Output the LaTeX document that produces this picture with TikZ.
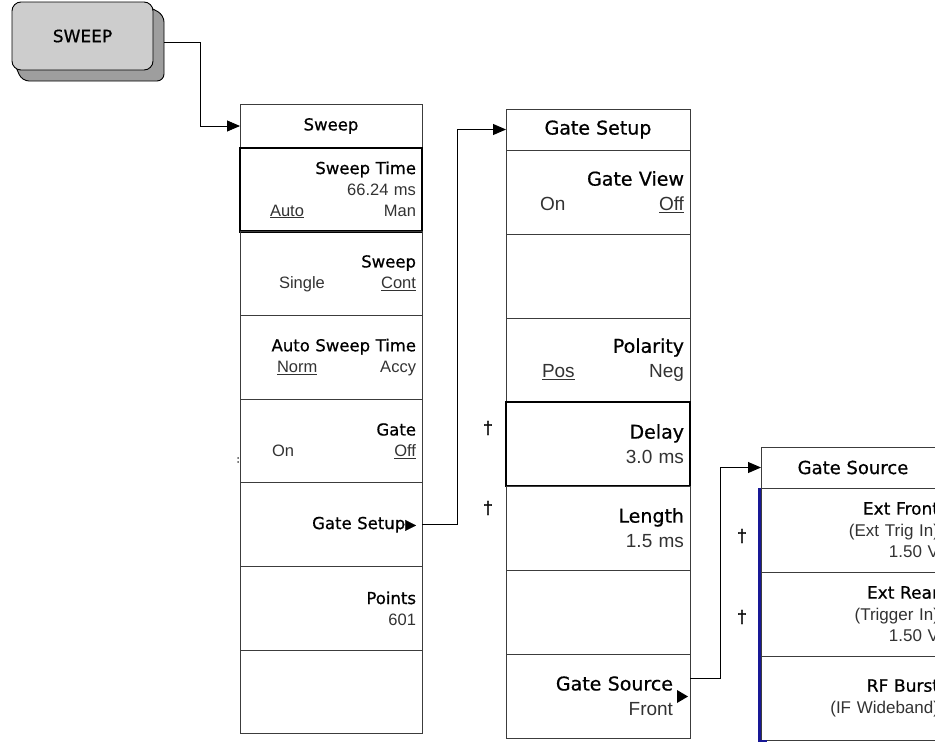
\documentclass[tikz,border=0pt]{standalone}
\usepackage{fontspec}
\setmainfont{DejaVu Sans}[FakeBold=0.7]
\newfontfamily\valfamily{Liberation Sans}
\usepackage{tikz}
\usetikzlibrary{positioning,arrows.meta}
\definecolor{menuline}{RGB}{60,60,60}
\definecolor{valgray}{RGB}{50,50,50}
\definecolor{keyface}{RGB}{205,205,205}
\definecolor{keyshade}{RGB}{158,158,158}
\definecolor{edgeblue}{RGB}{24,24,150}
\newcommand\val{\valfamily\color{valgray}}

\tikzset{
  menuhead/.style={draw=menuline,line width=.9pt,outer sep=0pt,inner sep=0pt,minimum width=#1},
  softkey/.style={draw=menuline,line width=.9pt,outer sep=0pt,inner xsep=6pt,inner ysep=0pt,align=right,text width=#1},
  sweepkey/.style={softkey=170pt,minimum height=83.7pt,font=\fontsize{16.5}{21}\selectfont},
  gskey/.style={softkey=172pt,minimum height=84pt,font=\fontsize{19}{25}\selectfont},
  srckey/.style={softkey=172pt,minimum height=84pt,font=\fontsize{17}{21.5}\selectfont},
  selkey/.style={draw=black,line width=2.6pt},
  link/.style={draw=black,line width=.9pt,-{Triangle[length=13pt,width=11pt]}},
  dagger/.style={inner sep=0pt,font=\fontsize{17}{17}\selectfont},
  hardkey/.style={draw=black,line width=.9pt,fill=keyface,rounded corners=9pt,minimum width=141pt,minimum height=68pt,font=\fontsize{17}{17}\selectfont}
}

\begin{document}
\begin{tikzpicture}[x=1pt,y=-1pt]
\useasboundingbox (0,0) rectangle (935,742);
\clip (0,0) rectangle (935,742);

% front panel key
\draw[line width=.9pt,fill=keyshade,rounded corners=7pt] (140,2) -- (164,15) -- (164,81) -- (22,81) -- (12,58) -- cycle;
\node[hardkey] (sweephard) at (82.5,36) {SWEEP};

% Sweep menu
\node[menuhead=182pt,minimum height=44pt,font=\fontsize{16.5}{20}\selectfont] (sweephead) at (331,126) {Sweep};
\node[sweepkey,selkey,below=0pt of sweephead] (sweeptime) {Sweep Time\\{\val 66.24 ms}\\{\val\hspace*{24pt}\underline{Auto}\hfill Man}};
\node[sweepkey,below=0pt of sweeptime] (sweepmode) {Sweep\\{\val\hspace*{33pt}Single\hfill\underline{Cont}}};
\node[sweepkey,below=0pt of sweepmode] (sweepauto) {Auto Sweep Time\\{\val\hspace*{31pt}\underline{Norm}\hfill Accy}};
\node[sweepkey,below=0pt of sweepauto] (sweepgate) {Gate\\{\val\hspace*{26pt}On\hfill\underline{Off}}};
\node[sweepkey,below=0pt of sweepgate] (sweepsetup) {Gate Setup{\fontsize{14}{14}\selectfont▶}};
\node[sweepkey,below=0pt of sweepsetup] (sweeppoints) {Points\\{\val 601}};
\node[sweepkey,below=0pt of sweeppoints] (sweepblank) {};
\node[anchor=east,inner sep=0pt,font=\fontsize{10}{10}\selectfont] (gatemark) at ([yshift=-19pt]sweepgate.west) {:};

% Gate Setup menu
\node[menuhead=184pt,minimum height=41pt,font=\fontsize{19}{23}\selectfont] (gshead) at (598,129.5) {Gate Setup};
\node[gskey,below=0pt of gshead] (gsview) {Gate View\\{\val\hspace*{28pt}On\hfill\underline{Off}}};
\node[gskey,below=0pt of gsview] (gsblanka) {};
\node[gskey,below=0pt of gsblanka] (gspolarity) {Polarity\\{\val\hspace*{30pt}\underline{Pos}\hfill Neg}};
\node[gskey,selkey,below=0pt of gspolarity] (gsdelay) {Delay\\{\val 3.0 ms}};
\node[gskey,below=0pt of gsdelay] (gslength) {Length\\{\val 1.5 ms}};
\node[gskey,below=0pt of gslength] (gsblankb) {};
\node[gskey,below=0pt of gsblankb] (gsgatesrc) {Gate Source\kern11pt\\{\val Front}\kern11pt};
\fill ([xshift=-13pt,yshift=6pt]gsgatesrc.east) -- ++(0,13) -- ++(11,-6.5) -- cycle;
\node[dagger] (dagdelay) at ([xshift=-18pt,yshift=16pt]gsdelay.west) {†};
\node[dagger] (daglength) at ([xshift=-18pt,yshift=20pt]gslength.west) {†};

% Gate Source menu
\node[menuhead=184pt,minimum height=41pt,font=\fontsize{18}{22}\selectfont] (srchead) at (853,467.5) {Gate Source};
\node[srckey,below=0pt of srchead] (extfront) {Ext Front\\{\val (Ext Trig In)}\\{\val 1.50 V}};
\node[srckey,below=0pt of extfront] (extrear) {Ext Rear\\{\val (Trigger In)}\\{\val 1.50 V}};
\node[srckey,below=0pt of extrear] (rfburst) {RF Burst\\{\val (IF Wideband)}};
\draw[edgeblue,line width=2.2pt] ([xshift=-1.5pt]extfront.north west) -- ([xshift=-1.5pt,yshift=-1pt]rfburst.south west) -- ++(7,0);
\node[dagger] (dagfront) at ([xshift=-19pt,yshift=-6pt]extfront.west) {†};
\node[dagger] (dagrear) at ([xshift=-19pt,yshift=-3pt]extrear.west) {†};

\draw[link] ([xshift=11pt,yshift=-6pt]sweephard.east) -| ([xshift=-40pt]sweephead.west) -- (sweephead.west);
\draw[link] (sweepsetup.east) -| ([xshift=-49pt]gshead.west) -- (gshead.west);
\draw[link] ([yshift=18pt]gsgatesrc.east) -| ([xshift=-41pt]srchead.west) -- (srchead.west);
\end{tikzpicture}
\end{document}
